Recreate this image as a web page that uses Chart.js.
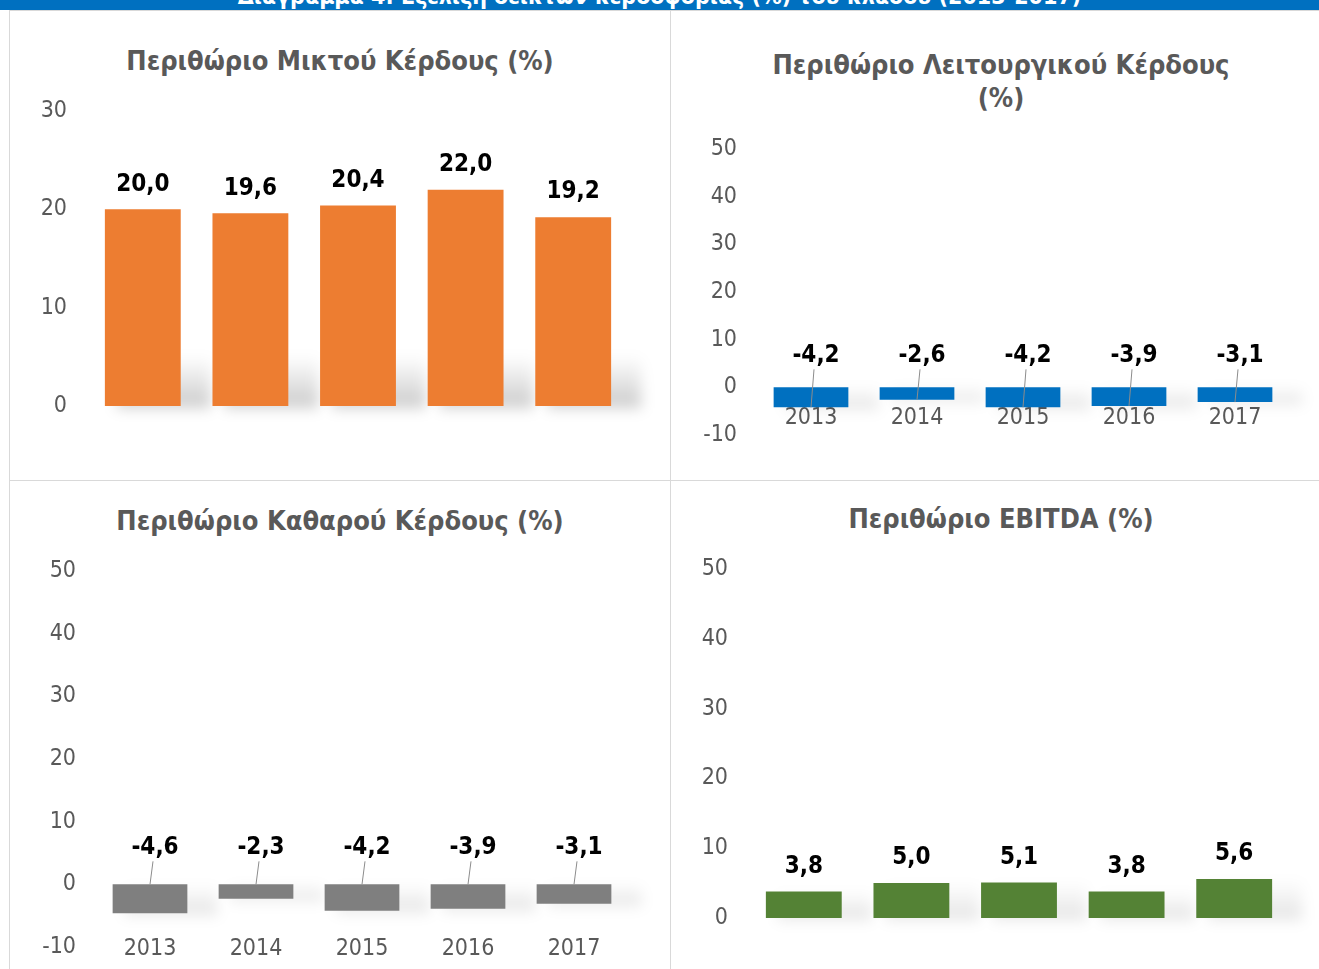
<!DOCTYPE html>
<html>
<head>
<meta charset="utf-8">
<script src="https://cdn.jsdelivr.net/npm/chart.js@4.4.0/dist/chart.umd.min.js"></script>
<style>
  body { margin: 0; background: #fff; width: 1319px; height: 969px; overflow: hidden; position: relative; }
  #banner { position: absolute; left: 0; top: 0; width: 1319px; height: 10px; background: #0070c0; overflow: hidden; }
  #banner span { position: absolute; left: 0; width: 1319px; top: -17px; text-align: center; color: #fff;
    font: bold 23px 'DejaVu Sans Condensed'; white-space: nowrap; }
  .panel { position: absolute; border: 1px solid #d9d9d9; box-sizing: border-box; background: #fff; }
  canvas { position: absolute; }
  .title { position: absolute; text-align: center; color: #595959; font: bold 27px 'DejaVu Sans Condensed'; line-height: 33px; }
</style>
</head>
<body>
<div id="banner"><span>Διάγραμμα 4: Εξέλιξη δεικτών κερδοφορίας (%) του κλάδου (2013-2017)</span></div>

<div class="panel" style="left:9px;top:10px;width:662px;height:471px"></div>
<div class="panel" style="left:670px;top:10px;width:650px;height:471px"></div>
<div class="panel" style="left:9px;top:480px;width:662px;height:491px"></div>
<div class="panel" style="left:670px;top:480px;width:650px;height:491px"></div>

<div class="title" style="left:9px;top:44px;width:662px">Περιθώριο Μικτού Κέρδους (%)</div>
<div class="title" style="left:670px;top:48px;width:662px">Περιθώριο Λειτουργικού Κέρδους<br>(%)</div>
<div class="title" style="left:9px;top:504px;width:662px">Περιθώριο Καθαρού Κέρδους (%)</div>
<div class="title" style="left:670px;top:502px;width:662px">Περιθώριο EBITDA (%)</div>

<canvas id="grossChart"></canvas>
<canvas id="operatingChart"></canvas>
<canvas id="netChart"></canvas>
<canvas id="ebitdaChart"></canvas>

<script>
// Data
const years = ['2013', '2014', '2015', '2016', '2017'];
const grossMargin = [20.0, 19.6, 20.4, 22.0, 19.2];
const operatingMargin = [-4.2, -2.6, -4.2, -3.9, -3.1];
const netMargin = [-4.6, -2.3, -4.2, -3.9, -3.1];
const ebitdaMargin = [3.8, 5.0, 5.1, 3.8, 5.6];

const grossTicks = [0, 10, 20, 30];
const operatingTicks = [-10, 0, 10, 20, 30, 40, 50];
const netTicks = [-10, 0, 10, 20, 30, 40, 50];
const ebitdaTicks = [0, 10, 20, 30, 40, 50];

const TICK_FONT = { family: 'DejaVu Sans Condensed', size: 23 };
const LABEL_FONT = 'bold 24px "DejaVu Sans Condensed"';

function formatValue(v) {
  return v.toFixed(1).replace('.', ',');
}

// soft shadow behind the bars, like the Excel original
const barShadowPlugin = {
  id: 'barShadow',
  beforeDatasetsDraw(chart) {
    const ctx = chart.ctx;
    const meta = chart.getDatasetMeta(0);
    ctx.save();
    ctx.filter = 'blur(7px)';
    meta.data.forEach(bar => {
      const lower = Math.max(bar.y, bar.base);
      const full = Math.abs(bar.y - bar.base);
      const h = Math.min(50, full);
      const alpha = full > 40 ? 0.2 : 0.1;
      const left = bar.x - bar.width / 2 + 12;
      const right = bar.x + bar.width / 2 + 30;
      const grad = ctx.createLinearGradient(0, lower - h, 0, lower);
      grad.addColorStop(0, 'rgba(0,0,0,0)');
      grad.addColorStop(1, 'rgba(0,0,0,' + alpha + ')');
      ctx.fillStyle = grad;
      ctx.fillRect(left, lower - h, right - left, h + 2);
    });
    ctx.restore();
  }
};

// value labels, with leader lines for the negative bars
const dataLabelPlugin = {
  id: 'valueLabels',
  afterDatasetsDraw(chart, args, opts) {
    const ctx = chart.ctx;
    const meta = chart.getDatasetMeta(0);
    const values = chart.data.datasets[0].data;
    const zero = chart.scales.y.getPixelForValue(0);
    ctx.save();
    ctx.font = LABEL_FONT;
    ctx.fillStyle = '#000';
    ctx.textAlign = 'center';
    ctx.textBaseline = 'middle';
    meta.data.forEach((bar, i) => {
      const v = values[i];
      if (v >= 0) {
        ctx.fillText(formatValue(v), bar.x, bar.y - opts.offset);
      } else {
        const ly = zero - opts.offset;
        ctx.fillText(formatValue(v), bar.x + 5, ly);
        ctx.strokeStyle = '#8c8c8c';
        ctx.lineWidth = 1;
        ctx.beginPath();
        ctx.moveTo(bar.x + 3, ly + 14);
        ctx.lineTo(bar.x, opts.leaderToEnd ? bar.y : zero);
        ctx.stroke();
      }
    });
    ctx.restore();
  }
};

// box = canvas rect on the page, plot = wanted plot area on the page
function makeChart(id, values, ticks, color, box, plot, labelOpts) {
  const canvas = document.getElementById(id);
  canvas.width = box.w;
  canvas.height = box.h;
  canvas.style.left = box.x + 'px';
  canvas.style.top = box.y + 'px';

  const padLeft = 5;
  const yWidth = plot.left - box.x - padLeft;
  const xHeight = plot.xAt === undefined ? 20 : 0;
  const padBottom = box.y + box.h - plot.bottom - xHeight;

  return new Chart(canvas, {
    type: 'bar',
    data: {
      labels: years,
      datasets: [{
        data: values,
        backgroundColor: color,
        borderWidth: 0,
        categoryPercentage: 1,
        barPercentage: 0.705
      }]
    },
    plugins: [barShadowPlugin, dataLabelPlugin],
    options: {
      responsive: false,
      animation: false,
      devicePixelRatio: 1,
      layout: {
        padding: {
          left: padLeft,
          right: box.x + box.w - plot.right,
          top: plot.top - box.y,
          bottom: padBottom
        }
      },
      plugins: {
        legend: { display: false },
        tooltip: { enabled: false },
        valueLabels: labelOpts
      },
      scales: {
        x: {
          position: plot.xAt === undefined ? 'bottom' : { y: plot.xAt },
          grid: { display: false, drawTicks: false },
          border: { display: false },
          ticks: { color: '#595959', font: TICK_FONT, padding: plot.xPad },
          afterFit(scale) { scale.height = xHeight; }
        },
        y: {
          min: ticks[0],
          max: ticks[ticks.length - 1],
          grid: { display: false, drawTicks: false },
          border: { display: false },
          ticks: { stepSize: 10, color: '#595959', font: TICK_FONT, padding: plot.left - plot.labelRight },
          afterFit(scale) { scale.width = yWidth; }
        }
      }
    }
  });
}

document.addEventListener('DOMContentLoaded', () => {
  makeChart('grossChart', grossMargin, grossTicks, '#ed7d31',
    { x: 9, y: 10, w: 662, h: 471 },
    { left: 89, right: 627, top: 111, bottom: 406, labelRight: 67, xPad: 18 },
    { offset: 25 });

  makeChart('operatingChart', operatingMargin, operatingTicks, '#0070c0',
    { x: 670, y: 10, w: 649, h: 471 },
    { left: 758, right: 1288, top: 149, bottom: 435, labelRight: 737, xAt: 0, xPad: 17 },
    { offset: 32, leaderToEnd: true });

  makeChart('netChart', netMargin, netTicks, '#7f7f7f',
    { x: 9, y: 480, w: 662, h: 530 },
    { left: 97, right: 627, top: 571, bottom: 947, labelRight: 76, xAt: -10, xPad: -12 },
    { offset: 37, leaderToEnd: false });

  makeChart('ebitdaChart', ebitdaMargin, ebitdaTicks, '#548235',
    { x: 670, y: 480, w: 649, h: 530 },
    { left: 750, right: 1288, top: 569, bottom: 918, labelRight: 728, xPad: 18 },
    { offset: 25 });
});
</script>
</body>
</html>
